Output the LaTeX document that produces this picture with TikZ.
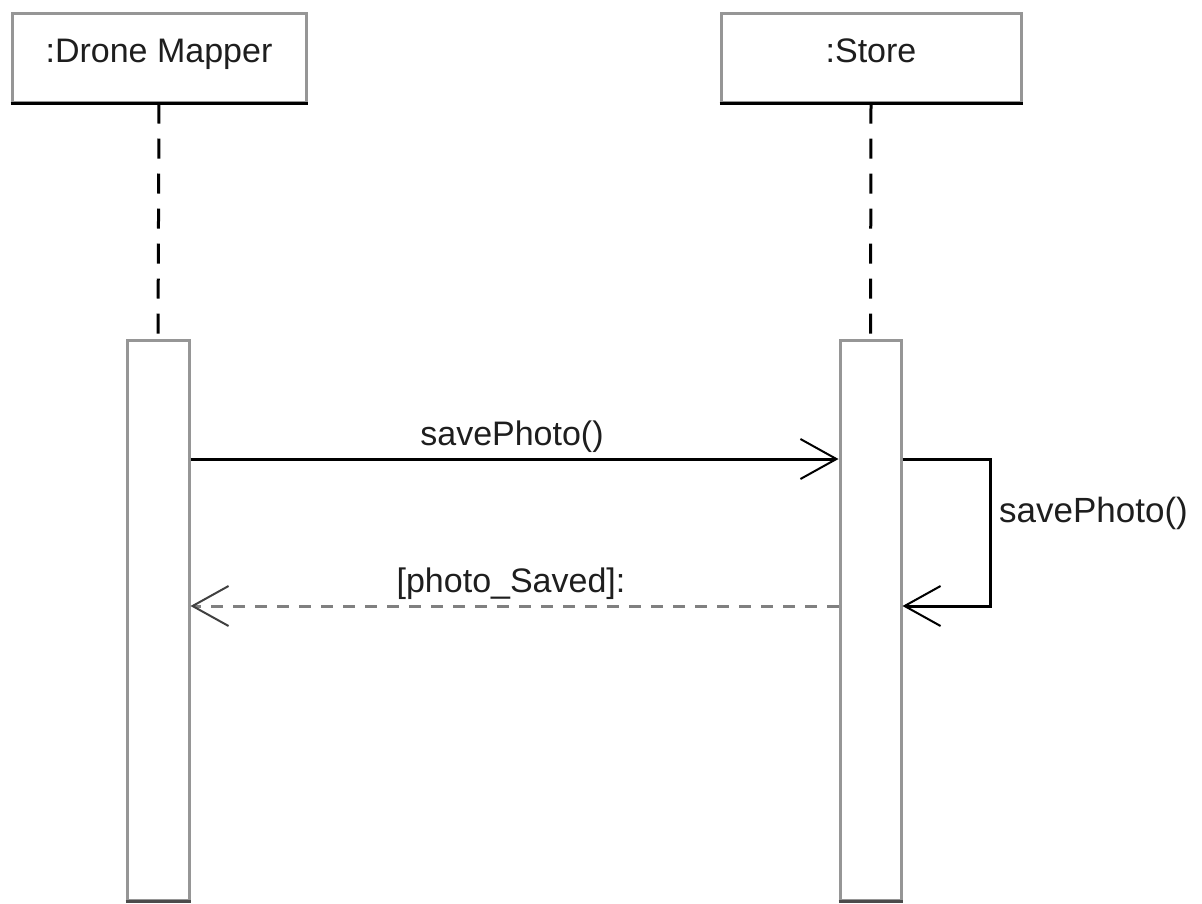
\documentclass[tikz,border=0pt]{standalone}
\usepackage{fontspec}
\setmainfont{Liberation Sans}
\usetikzlibrary{arrows.meta}
\definecolor{framegray}{RGB}{150,150,150}
\definecolor{textdark}{RGB}{30,30,30}
\begin{document}
\begin{tikzpicture}[x=1pt,y=-1pt,
  font=\fontsize{34}{40}\selectfont,
  headbox/.style={draw=framegray, line width=3pt, fill=white, inner sep=0pt,
    text height=49pt, text depth=40pt, text=textdark},
  actbar/.style={draw=framegray, line width=3pt, fill=white, inner sep=0pt,
    minimum width=62pt, minimum height=560pt},
  lifeline/.style={line width=3pt, dash pattern=on 20pt off 15pt},
  msgtip/.style={-{Straight Barb[length=36pt,width=40pt,line width=2pt]}},
  callmsg/.style={line width=3pt, msgtip},
  replymsg/.style={draw=black!50, line width=3pt, dash pattern=on 12pt off 10pt,
    -{Straight Barb[length=36pt,width=40pt,line width=2pt,color=black!75]}},
  msglabel/.style={anchor=base, inner sep=0pt, text=textdark}
]
\useasboundingbox (0,0) rectangle (1202,903);

% lifeline heads
\node[headbox, minimum width=294pt] (dm) at (159,57.5) {:Drone Mapper};
\node[headbox, minimum width=300pt] (st) at (871,57.5) {:Store};
\draw[line width=3pt] (dm.south west) -- (dm.south east);
\draw[line width=3pt] (st.south west) -- (st.south east);

% activation bars
\node[actbar] (dmact) at (158,620) {};
\node[actbar, minimum width=61pt] (stact) at (870.5,620) {};
\draw[line width=3pt, black!70] (dmact.south west) -- (dmact.south east);
\draw[line width=3pt, black!70] (stact.south west) -- (stact.south east);

% dashed lifelines
\draw[lifeline] (dm.south) -- (dmact.north);
\draw[lifeline] (st.south) -- (stact.north);

% message levels
\coordinate (callY) at (0,459);
\coordinate (replyY) at (0,606);
\coordinate (loopX) at (990,0);

% call from the mapper to the store
\draw[callmsg] (dmact.east |- callY) -- (stact.west |- callY);
\node[msglabel] (calllbl) at (512,445) {savePhoto()};

% self call on the store
\draw[callmsg] (stact.east |- callY) -- (loopX |- callY) -- (loopX |- replyY) -- (stact.east |- replyY);
\node[msglabel, anchor=base west, font=\fontsize{35}{40}\selectfont] (selflbl) at (999,522) {savePhoto()};

% reply back to the mapper
\draw[replymsg] (stact.west |- replyY) -- (dmact.east |- replyY);
\node[msglabel] (replylbl) at (511,592) {[photo\_Saved]:};
\end{tikzpicture}
\end{document}
